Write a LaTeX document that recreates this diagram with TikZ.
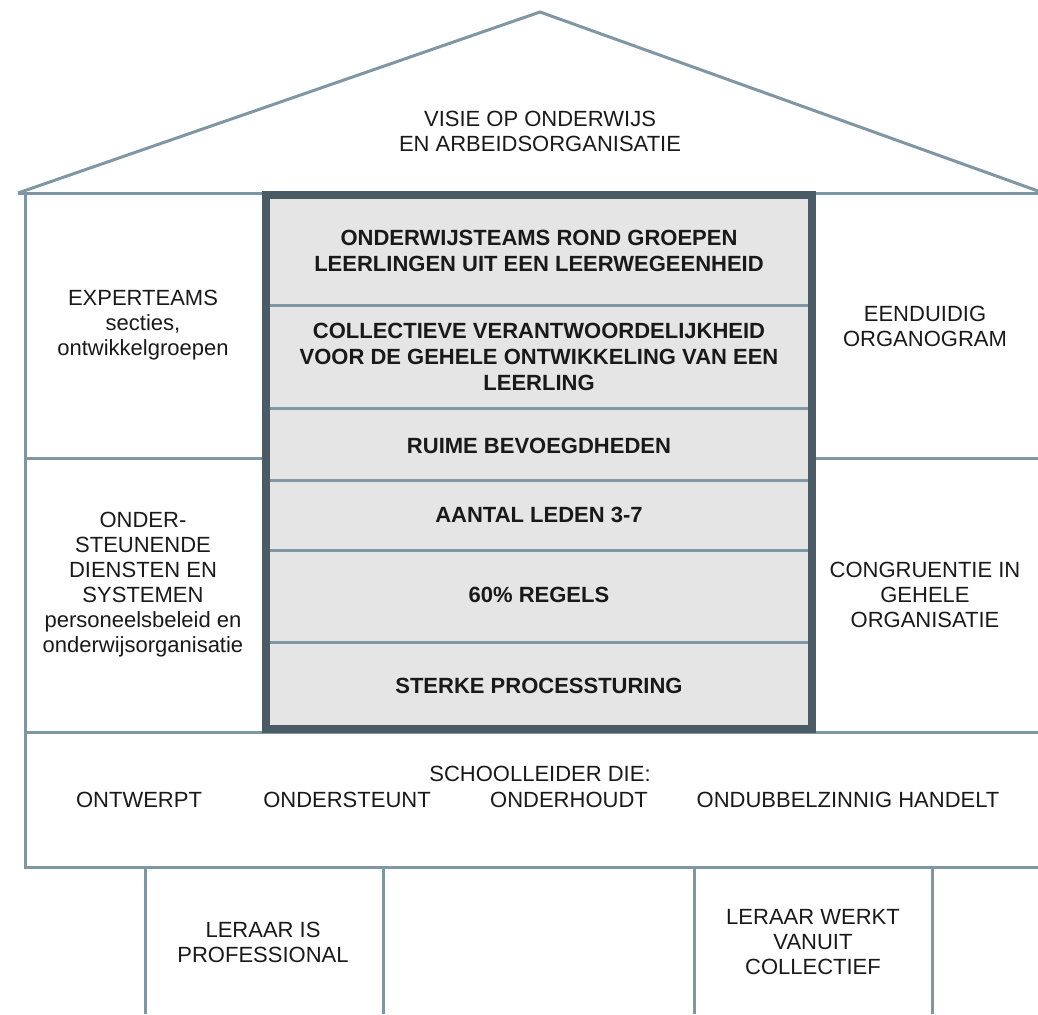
\documentclass[tikz,border=0pt]{standalone}
\usepackage{fontspec}
\setmainfont{Liberation Sans}
\usetikzlibrary{positioning}
\usetikzlibrary{calc}
\definecolor{wallgray}{HTML}{7F97A4}
\definecolor{coregray}{HTML}{4B5B65}
\definecolor{corefill}{HTML}{E5E5E5}

\begin{document}
\begin{tikzpicture}[x = 1pt, y = -1pt, wall/.style = {draw = wallgray, line width = 3pt}, core/.style = {draw = coregray, line width = 8pt}, txt/.style = {align = center, inner sep = 0pt, text = black!90, font = \fontsize{22}{25}\selectfont}, bold/.style = {txt, font = \fontsize{22}{26}\selectfont\bfseries}]
	\useasboundingbox (0,0) rectangle (1038,1014);
	% roof and walls
	\draw[wall] (18,193) -- (540,12) -- (1038,191);
	\draw[wall] (18,193) -- (1038,193);
	\draw[wall] (25,193) -- (25,867) -- (1038,867);
	\draw[wall] (25,458) -- (266,458);
	\draw[wall] (812,458) -- (1038,458);
	\draw[wall] (25,732) -- (1038,732);
	\draw[wall] (145,867) -- (145,1014);
	\draw[wall] (383,867) -- (383,1014);
	\draw[wall] (694,867) -- (694,1014);
	\draw[wall] (932,867) -- (932,1014);
	% core
	\fill[corefill] (266,195) rectangle (812,729);
	\foreach \y in {305, 408, 480, 550, 642}
		\draw[wall] (266,\y) -- (812,\y);
	\draw[core] (266,195) rectangle (812,729);
	% texts
	\node[txt] (visie) at (540,131) {VISIE OP ONDERWIJS\\EN ARBEIDSORGANISATIE};
	\node[txt] (expert) at (143,325) {EXPERTEAMS\\secties,\\ontwikkelgroepen};
	\node[txt] (diensten) at (143,585) {ONDER-\\STEUNENDE\\DIENSTEN EN\\SYSTEMEN\\personeelsbeleid en\\onderwijsorganisatie};
	\node[txt] (organogram) at (925,326) {EENDUIDIG\\ORGANOGRAM};
	\node[txt] (congruentie) at (925,595) {CONGRUENTIE IN\\GEHELE\\ORGANISATIE};
	\node[bold] (teams) at (539,251) {ONDERWIJSTEAMS ROND GROEPEN\\LEERLINGEN UIT EEN LEERWEGEENHEID};
	\node[bold] (collectief) at (539,357) {COLLECTIEVE VERANTWOORDELIJKHEID\\VOOR DE GEHELE ONTWIKKELING VAN EEN\\LEERLING};
	\node[bold] (ruime) at (539,446) {RUIME BEVOEGDHEDEN};
	\node[bold] (leden) at (539,515) {AANTAL LEDEN 3-7};
	\node[bold] (regels) at (539,595) {60\% REGELS};
	\node[bold] (sturing) at (539,686) {STERKE PROCESSTURING};
	\node[txt] (leider) at (540,774) {SCHOOLLEIDER DIE:};
	\node[txt] (ontwerpt) at (139,800) {ONTWERPT};
	\node[txt] (ondersteunt) at (347,800) {ONDERSTEUNT};
	\node[txt] (onderhoudt) at (569,800) {ONDERHOUDT};
	\node[txt] (handelt) at (848,800) {ONDUBBELZINNIG HANDELT};
	\node[txt] (professional) at (263,942) {LERAAR IS\\PROFESSIONAL};
	\node[txt] (werkt) at (813,942) {LERAAR WERKT\\VANUIT\\COLLECTIEF};
\end{tikzpicture}
\end{document}
